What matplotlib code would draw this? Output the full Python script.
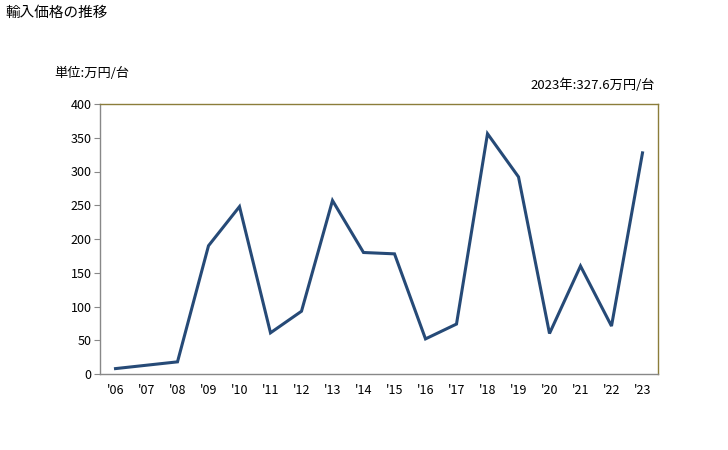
import matplotlib
matplotlib.use("Agg")
import matplotlib.pyplot as plt

plt.rcParams['font.family'] = ['Noto Sans CJK JP', 'DejaVu Sans']

years = ["'06", "'07", "'08", "'09", "'10", "'11", "'12", "'13", "'14",
         "'15", "'16", "'17", "'18", "'19", "'20", "'21", "'22", "'23"]
prices = [8, 13, 18, 190, 248, 61, 93, 257, 180,
          178, 52, 74, 356, 292, 60, 160, 71, 327.6]

fig = plt.figure(figsize=(7.28, 4.5), dpi=100)
ax = fig.add_axes([100/728, 76/450, 558/728, 270/450])

ax.plot(range(len(years)), prices, color='#264a77', linewidth=2.2, solid_joinstyle='miter')

ax.set_xlim(-0.5, len(years) - 0.5)
ax.set_ylim(0, 400)
ax.set_yticks(range(0, 401, 50))
ax.set_xticks(range(len(years)))
ax.set_xticklabels(years)

# axes frame
ax.spines['left'].set_color('#888888')
ax.spines['bottom'].set_color('#888888')
ax.spines['top'].set_color('#8b7d3a')
ax.spines['right'].set_color('#8b7d3a')
for s in ax.spines.values():
    s.set_linewidth(1.0)
ax.tick_params(axis='y', direction='out', length=4, color='#888888', labelsize=9, pad=2)
ax.tick_params(axis='x', length=0, labelsize=9, pad=7)

fig.text(5/728, 1 - 13/450, '輸入価格の推移', fontsize=10.5, va='center', ha='left')
fig.text(54/728, 1 - 73/450, '単位:万円/台', fontsize=9.5, va='center', ha='left')
fig.text(655/728, 1 - 85/450, '2023年:327.6万円/台', fontsize=9.5, va='center', ha='right')

plt.savefig("out.png", dpi=100)
